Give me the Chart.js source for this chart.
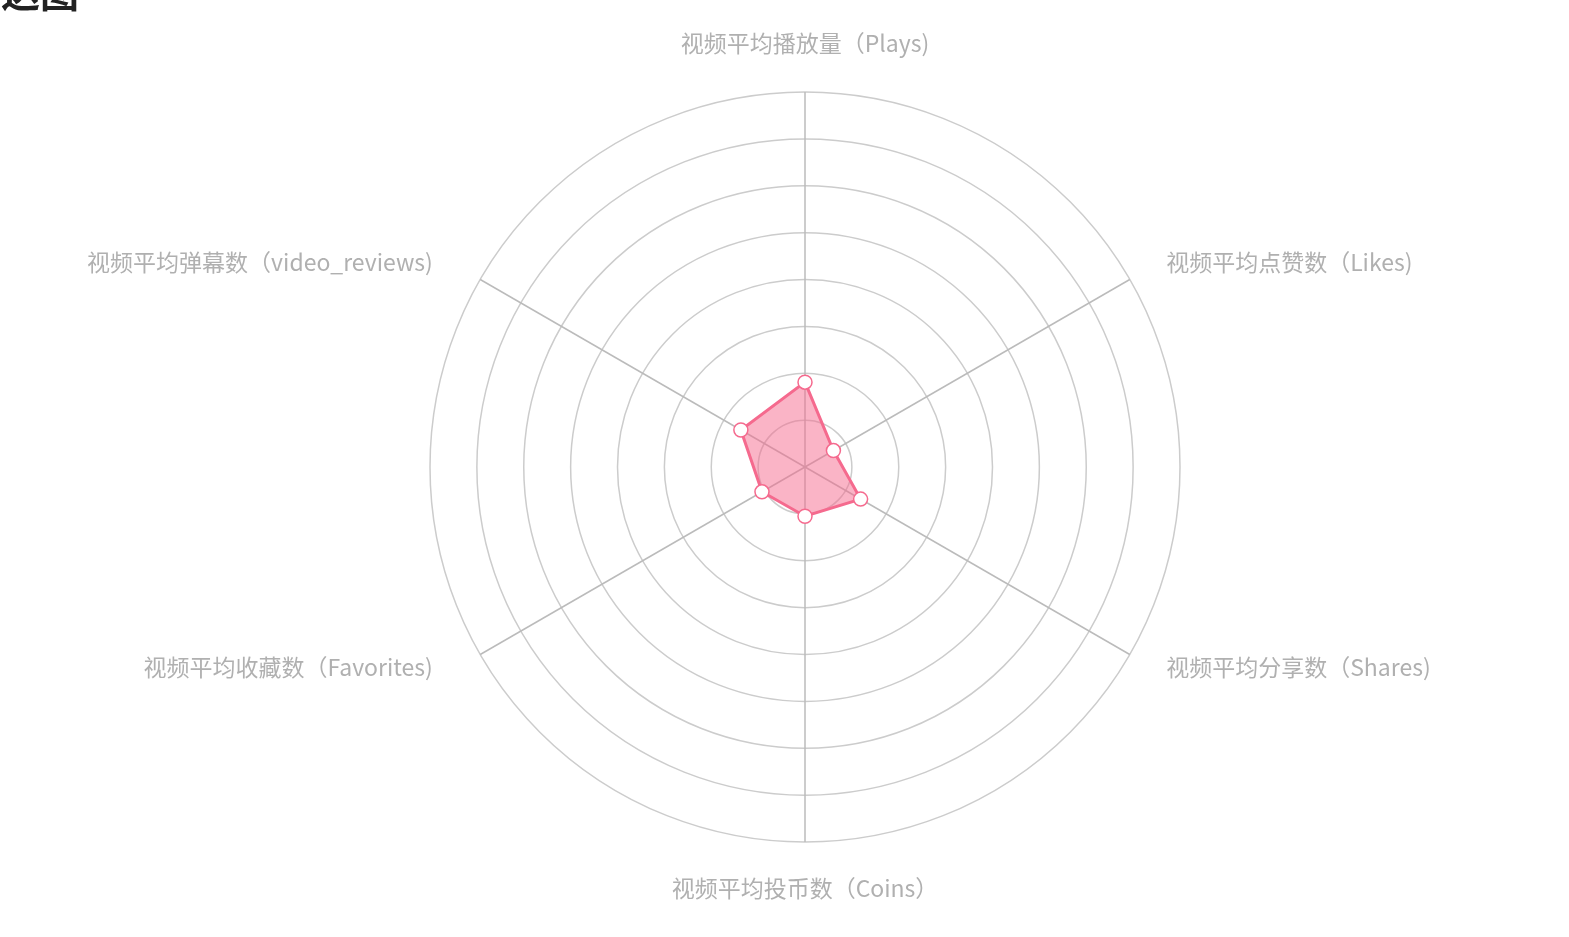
<!DOCTYPE html>
<html>
<head>
<meta charset="utf-8">
<script src="https://cdn.jsdelivr.net/npm/chart.js@4/dist/chart.umd.min.js"></script>
<style>
  html, body { margin: 0; padding: 0; background: #fff; overflow: hidden; }
  #wrap { position: relative; width: 1569px; height: 937px; }
  #title { position: absolute; left: -38px; top: -38px; font-family: "Noto Sans CJK SC", sans-serif; font-weight: bold; font-size: 39px; color: #222; white-space: nowrap; }
  canvas { position: absolute; left: 0; top: 0; }
</style>
</head>
<body>
<div id="wrap">
  <canvas id="c" width="1569" height="937"></canvas>
  <div id="title">雷达图</div>
</div>
<script>
const categories = [
  "视频平均播放量（Plays)",
  "视频平均点赞数（Likes)",
  "视频平均分享数（Shares)",
  "视频平均投币数（Coins）",
  "视频平均收藏数（Favorites)",
  "视频平均弹幕数（video_reviews)"
];
const seriesValues = [1.81, 0.70, 1.37, 1.05, 1.06, 1.58];
const scaleMax = 8;
const scaleStep = 1;

const labelPlugin = {
  id: 'axisNames',
  afterDraw(chart) {
    const scale = chart.scales.r;
    const ctx = chart.ctx;
    ctx.save();
    ctx.font = '23px "Noto Sans CJK SC", sans-serif';
    ctx.fillStyle = '#b0b0b0';
    ctx.textBaseline = 'middle';
    categories.forEach((name, i) => {
      const p = scale.getPointPosition(i, scale.drawingArea + 42);
      const dx = p.x - scale.xCenter;
      let x = p.x;
      let y = p.y;
      if (Math.abs(dx) < 1) {
        ctx.textAlign = 'center';
        y += (p.y < scale.yCenter) ? -7 : 4;
      } else {
        ctx.textAlign = dx > 0 ? 'left' : 'right';
        if (dx < 0) x -= 11;
        y += (p.y < scale.yCenter) ? 4 : -8;
      }
      ctx.fillText(name, x, y);
    });
    ctx.restore();
  }
};

new Chart(document.getElementById('c'), {
  type: 'radar',
  data: {
    labels: categories,
    datasets: [{
      data: seriesValues,
      borderColor: '#f56a8e',
      backgroundColor: 'rgba(245,106,142,0.5)',
      borderWidth: 3,
      pointBackgroundColor: '#ffffff',
      pointBorderColor: '#f56a8e',
      pointBorderWidth: 1.5,
      pointRadius: 7,
      fill: true
    }]
  },
  options: {
    responsive: false,
    animation: false,
    layout: { padding: { left: 430, right: 389, top: 92, bottom: 95 } },
    plugins: { legend: { display: false }, tooltip: { enabled: false }, title: { display: false } },
    scales: {
      r: {
        min: 0,
        max: scaleMax,
        ticks: { display: false, stepSize: scaleStep },
        pointLabels: { display: false },
        grid: { circular: true, color: '#cccccc', lineWidth: 1.5 },
        angleLines: { color: '#bbbbbb', lineWidth: 1.5 }
      }
    }
  },
  plugins: [labelPlugin]
});
</script>
</body>
</html>
